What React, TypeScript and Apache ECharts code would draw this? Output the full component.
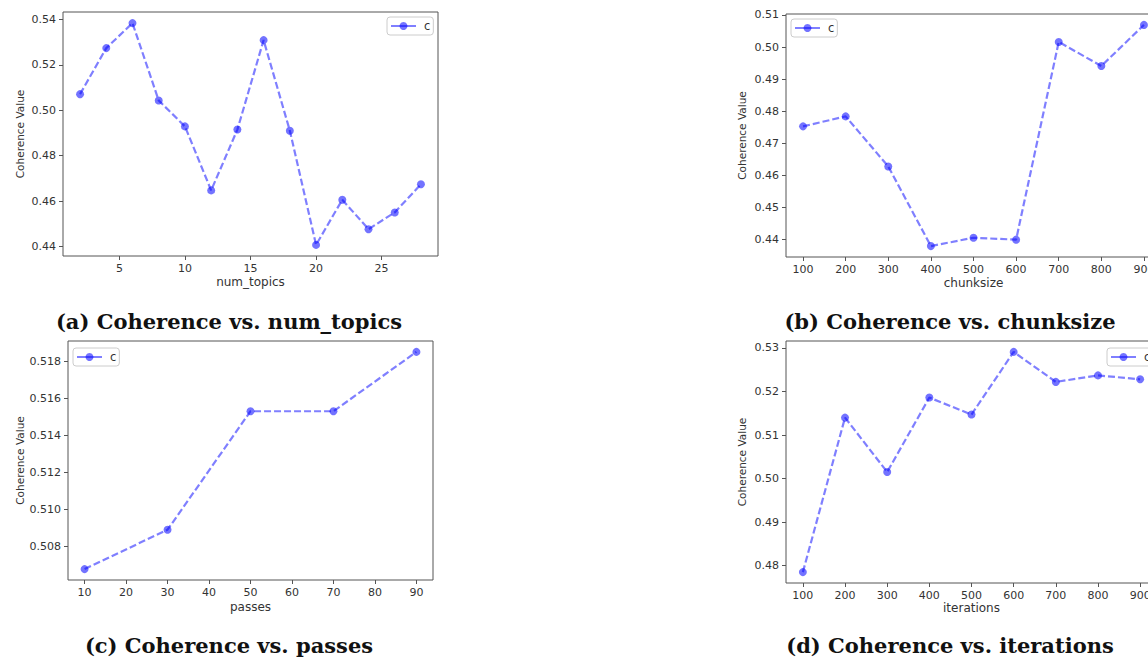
import React, { useEffect, useRef } from "react";
import * as echarts from "echarts";

// ---- data ----
const topicsX = [2, 4, 6, 8, 10, 12, 14, 16, 18, 20, 22, 24, 26, 28];
const topicsY = [0.5071, 0.5274, 0.5384, 0.5043, 0.4929, 0.4647, 0.4915, 0.5309, 0.491, 0.4407, 0.4606, 0.4476, 0.455, 0.4674];

const chunkX = [100, 200, 300, 400, 500, 600, 700, 800, 900];
const chunkY = [0.4753, 0.4784, 0.4628, 0.438, 0.4406, 0.44, 0.5016, 0.4941, 0.5069];

const passesX = [10, 30, 50, 70, 90];
const passesY = [0.50677, 0.5089, 0.51531, 0.51531, 0.51852];

const iterX = [100, 200, 300, 400, 500, 600, 700, 800, 900];
const iterY = [0.4785, 0.514, 0.5015, 0.5186, 0.5147, 0.5291, 0.5222, 0.5237, 0.5228];

// tick labels
const aXTicks = [5, 10, 15, 20, 25];
const aYTicks = [0.44, 0.46, 0.48, 0.5, 0.52, 0.54];
const bXTicks = [100, 200, 300, 400, 500, 600, 700, 800, 900];
const bYTicks = [0.44, 0.45, 0.46, 0.47, 0.48, 0.49, 0.5, 0.51];
const cXTicks = [10, 20, 30, 40, 50, 60, 70, 80, 90];
const cYTicks = [0.508, 0.51, 0.512, 0.514, 0.516, 0.518];
const dXTicks = [100, 200, 300, 400, 500, 600, 700, 800, 900];
const dYTicks = [0.48, 0.49, 0.5, 0.51, 0.52, 0.53];

const xNames = ["num_topics", "chunksize", "passes", "iterations"];
const yName = "Coherence Value";
const captions = [
  "(a) Coherence vs. num_topics",
  "(b) Coherence vs. chunksize",
  "(c) Coherence vs. passes",
  "(d) Coherence vs. iterations",
];
const seriesName = "c";

const FONT = "DejaVu Sans";
const AXIS_COLOR = "#555";
const TEXT_COLOR = "#333";

export default function App() {
  const ref = useRef<HTMLDivElement>(null);

  useEffect(() => {
    if (!ref.current) return;
    const chart = echarts.init(ref.current, null, { renderer: "svg" });

    const grids = [
      { left: 63, top: 12, width: 375, height: 244 },
      { left: 786, top: 14, width: 375, height: 243 },
      { left: 68, top: 341, width: 365, height: 239 },
      { left: 786, top: 341, width: 371, height: 242 },
    ];
    const xRanges = [
      [0.7, 29.3],
      [60, 940],
      [6, 94],
      [60, 940],
    ];
    const yRanges = [
      [0.4358, 0.5433],
      [0.4346, 0.5103],
      [0.50618, 0.51911],
      [0.476, 0.5316],
    ];
    const xTicks = [aXTicks, bXTicks, cXTicks, dXTicks];
    const yTicks = [aYTicks, bYTicks, cYTicks, dYTicks];
    const yDecimals = [2, 2, 3, 2];
    const xNameGaps = [20, 20, 21, 19];
    const yNameGaps = [38, 39, 43, 39];
    const xs = [topicsX, chunkX, passesX, iterX];
    const ys = [topicsY, chunkY, passesY, iterY];
    const legendPos = [
      { left: 387, top: 17 },
      { left: 791, top: 19 },
      { left: 73, top: 348 },
      { left: 1107, top: 348 },
    ];
    const captionPos = [
      [229, 321],
      [950, 321],
      [229, 645],
      [950, 645],
    ];

    const option: any = {
      animation: false,
      backgroundColor: "#fff",
      grid: grids.map((g) => ({
        ...g,
        show: true,
        borderColor: AXIS_COLOR,
        borderWidth: 1,
        backgroundColor: "#fff",
        containLabel: false,
      })),
      xAxis: grids.map((_, i) => ({
        type: "value",
        gridIndex: i,
        min: xRanges[i][0],
        max: xRanges[i][1],
        name: xNames[i],
        nameLocation: "middle",
        nameGap: xNameGaps[i],
        nameTextStyle: { fontFamily: FONT, fontSize: 12, color: TEXT_COLOR },
        axisLine: { show: false },
        splitLine: { show: false },
        axisTick: {
          show: true,
          length: 4,
          lineStyle: { color: AXIS_COLOR },
          customValues: xTicks[i],
        },
        axisLabel: {
          customValues: xTicks[i],
          margin: 7,
          fontFamily: FONT,
          fontSize: 11,
          color: TEXT_COLOR,
          formatter: (v: number) => String(v),
        },
      })),
      yAxis: grids.map((_, i) => ({
        type: "value",
        gridIndex: i,
        min: yRanges[i][0],
        max: yRanges[i][1],
        name: yName,
        nameLocation: "middle",
        nameGap: yNameGaps[i],
        nameTextStyle: { fontFamily: FONT, fontSize: 10.5, color: TEXT_COLOR },
        axisLine: { show: false },
        splitLine: { show: false },
        axisTick: {
          show: true,
          length: 4,
          lineStyle: { color: AXIS_COLOR },
          customValues: yTicks[i],
        },
        axisLabel: {
          customValues: yTicks[i],
          margin: 7,
          fontFamily: FONT,
          fontSize: 11,
          color: TEXT_COLOR,
          formatter: (v: number) => v.toFixed(yDecimals[i]),
        },
      })),
      legend: legendPos.map((p) => ({
        ...p,
        data: [seriesName],
        orient: "vertical",
        borderColor: "#ccc",
        borderWidth: 1,
        borderRadius: 3,
        padding: [3, 3, 3, 3],
        backgroundColor: "rgba(255,255,255,0.8)",
        itemWidth: 25,
        itemHeight: 10,
        itemGap: 0,
        selectedMode: false,
        lineStyle: { type: "solid" },
        textStyle: { fontFamily: FONT, fontSize: 11.5, color: TEXT_COLOR, padding: [0, 0, 0, 3] },
      })),
      series: xs.map((xv, i) => ({
        name: seriesName,
        type: "line",
        xAxisIndex: i,
        yAxisIndex: i,
        data: xv.map((x, k) => [x, ys[i][k]]),
        symbol: "circle",
        symbolSize: 8,
        showSymbol: true,
        lineStyle: { color: "rgba(0,0,255,0.5)", width: 2.2, type: [7, 3] },
        itemStyle: { color: "rgba(0,0,255,0.55)", borderWidth: 0 },
        emphasis: { disabled: true },
        z: 3,
      })),
      graphic: captions.map((t, i) => ({
        type: "text",
        x: captionPos[i][0],
        y: captionPos[i][1],
        style: {
          text: t,
          fontFamily: "DejaVu Serif",
          fontWeight: "bold",
          fontSize: 21,
          fill: "#111",
          textAlign: "center",
          textVerticalAlign: "middle",
        },
      })),
    };

    chart.setOption(option);
    return () => chart.dispose();
  }, []);

  return (
    <div
      style={{
        position: "fixed",
        left: 0,
        top: 0,
        width: 1148,
        height: 662,
        overflow: "hidden",
        background: "#fff",
      }}
    >
      <div ref={ref} style={{ width: 1180, height: 662 }} />
    </div>
  );
}
